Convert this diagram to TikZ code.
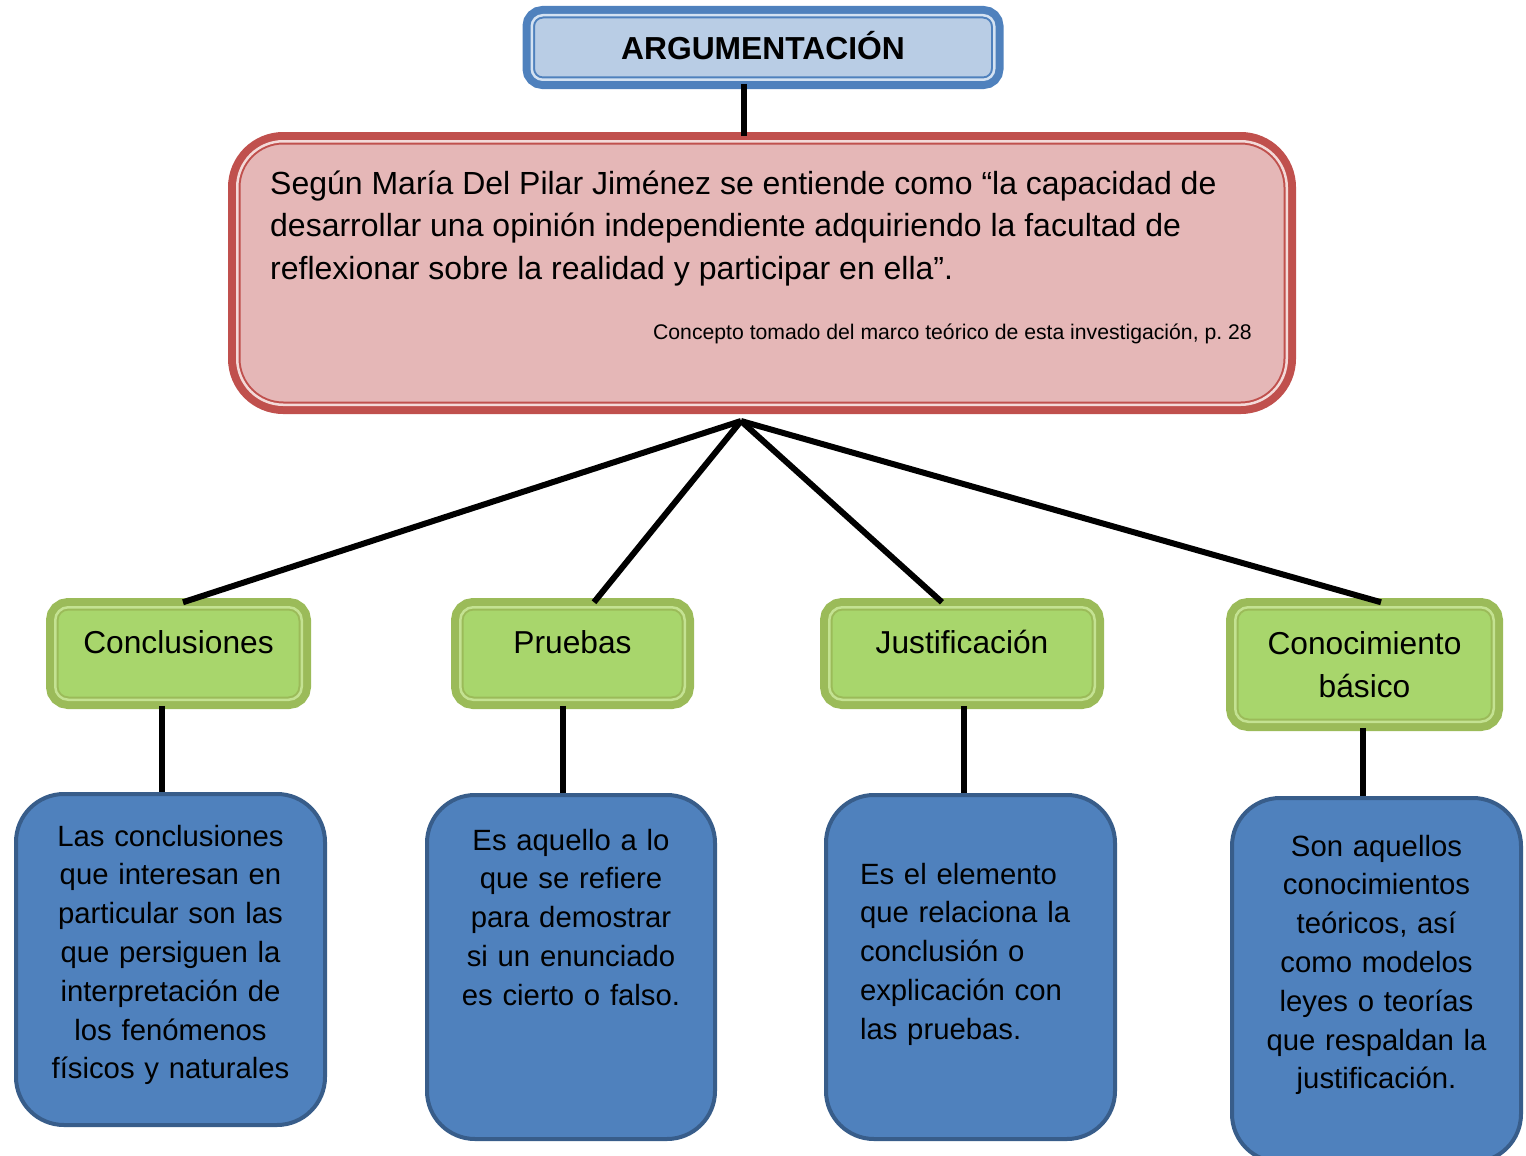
\documentclass[tikz,border=0pt]{standalone}
\usepackage{fontspec}
\setmainfont{Liberation Sans}
\definecolor{titleblue}{RGB}{79,129,189}
\definecolor{softblue}{RGB}{185,205,229}
\definecolor{paleblue}{RGB}{212,226,242}
\definecolor{conceptred}{RGB}{192,80,77}
\definecolor{softred}{RGB}{229,183,183}
\definecolor{palered}{RGB}{243,218,217}
\definecolor{leafgreen}{RGB}{155,187,89}
\definecolor{softgreen}{RGB}{168,214,108}
\definecolor{palegreen}{RGB}{196,226,146}
\definecolor{deepblue}{RGB}{56,93,138}
\definecolor{boxblue}{RGB}{79,129,189}

\begin{document}
\begin{tikzpicture}[
	x=1pt, y=-1pt,
	% Styles for the framed boxes and the connectors
	framebox/.style 2 args={preaction={draw=#1, line width=18.5pt}, draw=#1, double=#2, double distance=2.5pt, line width=2pt},
	titlebox/.style={framebox={titleblue}{paleblue}, fill=softblue, rounded corners=11pt, inner sep=0pt, font=\bfseries\fontsize{31.8}{38}\selectfont},
	conceptbox/.style={framebox={conceptred}{palered}, fill=softred, rounded corners=46pt, inner sep=0pt},
	leafbox/.style={framebox={leafgreen}{palegreen}, fill=softgreen, rounded corners=13pt, inner sep=0pt, align=center, font=\fontsize{31.7}{43}\selectfont},
	notebox/.style={draw=deepblue, line width=4pt, fill=boxblue, rounded corners=48pt, inner ysep=0pt, inner xsep=0pt, align=center, font=\fontsize{29.3}{38.8}\selectfont},
	conector/.style={line width=6pt, black}
	]
	\useasboundingbox (0,0) rectangle (1526,1156);
	
	% ==========================================
	% 1. TITLE AND DEFINITION
	% ==========================================
	\node[titlebox, minimum width=462.5pt, text height=44.15pt, text depth=20.35pt, anchor=base] (titulo) at (763,59.4) {ARGUMENTACIÓN};
	
	\node[conceptbox, minimum width=1049.5pt, minimum height=263.5pt] (concepto) at (762,273) {};
	% base of a multi-line node = its last line
	\node[anchor=base west, align=left, inner sep=0pt, font=\fontsize{32}{42.5}\selectfont] (definicion) at (270,279)
		{Según María Del Pilar Jiménez se entiende como “la capacidad de\\
		desarrollar una opinión independiente adquiriendo la facultad de\\
		reflexionar sobre la realidad y participar en ella”.};
	\node[anchor=base east, inner sep=0pt, font=\fontsize{21.2}{25}\selectfont] (cita) at (1252,339)
		{Concepto tomado del marco teórico de esta investigación, p.\ 28};
	
	\coordinate (hub) at (741,421);
	
	% ==========================================
	% 2. ELEMENTS (green)
	% ==========================================
	\node[leafbox, minimum width=246.5pt, text height=45.75pt, text depth=46.75pt, anchor=base] (conclusiones) at (178.5,653) {Conclusiones};
	\node[leafbox, minimum width=224.5pt, text height=45.75pt, text depth=46.75pt, anchor=base] (pruebas) at (572.5,653) {Pruebas};
	\node[leafbox, minimum width=265.5pt, text height=45.75pt, text depth=46.75pt, anchor=base] (justificacion) at (962,653) {Justificación};
	\node[leafbox, minimum width=258.5pt, text height=89.75pt, text depth=24.75pt, anchor=base] (conocimiento) at (1364.5,697) {Conocimiento\\básico};
	
	% ==========================================
	% 3. DESCRIPTIONS (blue)
	% ==========================================
	\node[notebox, text width=309pt, text height=52pt, text depth=279pt, anchor=base] (defconclusiones) at (170.5,846)
		{Las conclusiones\\ que interesan en\\ particular son las\\ que persiguen la\\ interpretación de\\ los fenómenos\\ físicos y naturales};
	\node[notebox, text width=288pt, text height=55pt, text depth=289pt, anchor=base] (defpruebas) at (571,850)
		{Es aquello a lo\\ que se refiere\\ para demostrar\\ si un enunciado\\ es cierto o falso.};
	\node[notebox, align=left, inner xsep=34pt, text width=221pt, text height=89pt, text depth=255pt, anchor=base] (defjustificacion) at (970.5,884)
		{Es el elemento\\ que relaciona la\\ conclusión o\\ explicación con\\ las pruebas.};
	\node[notebox, text width=289pt, text height=58pt, text depth=306pt, anchor=base] (defconocimiento) at (1376.5,856)
		{Son aquellos\\ conocimientos\\ teóricos, así\\ como modelos\\ leyes o teorías\\ que respaldan la\\ justificación.};
	
	% ==========================================
	% 4. CONNECTORS
	% ==========================================
	\draw[conector, shorten <=3pt, shorten >=4pt] ([xshift=-19.5pt]titulo.south) -- ([xshift=-19.5pt]titulo.south |- concepto.north);
	\foreach \g/\dx in {conclusiones/4.5, pruebas/21.5, justificacion/-20, conocimiento/16.5}
		\draw[conector] (hub) -- ([xshift=\dx pt, yshift=4pt]\g.north);
	\foreach \g/\d/\dx in {conclusiones/defconclusiones/-16.5, pruebas/defpruebas/-9.5, justificacion/defjustificacion/2, conocimiento/defconocimiento/-1.5}
		\draw[conector, shorten <=5pt] ([xshift=\dx pt]\g.south) -- ([xshift=\dx pt]\g.south |- \d.north);
\end{tikzpicture}
\end{document}
